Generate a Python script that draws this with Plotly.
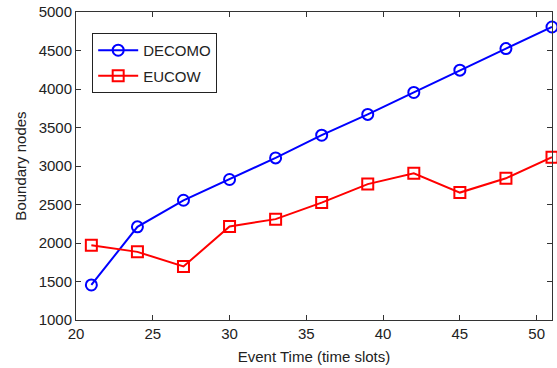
import plotly.graph_objects as go

event_time = [21, 24, 27, 30, 33, 36, 39, 42, 45, 48, 51]
decomo = [1455, 2210, 2555, 2825, 3105, 3400, 3670, 3955, 4245, 4525, 4805]
eucow = [1970, 1885, 1695, 2215, 2310, 2525, 2765, 2905, 2655, 2840, 3115]

FONT = "Liberation Sans, Arial, sans-serif"

fig = go.Figure()
fig.add_trace(go.Scatter(
    x=event_time, y=decomo, name="DECOMO", mode="lines+markers", legendgroup="a",
    line=dict(color="#0000ff", width=2), cliponaxis=False,
    marker=dict(symbol="circle-open", size=11, color="#0000ff", line=dict(width=2)),
))
fig.add_trace(go.Scatter(
    x=event_time, y=eucow, name="EUCOW", mode="lines+markers", legendgroup="b",
    line=dict(color="#ff0000", width=2), cliponaxis=False,
    marker=dict(symbol="square-open", size=11, color="#ff0000", line=dict(width=2)),
))

axis_common = dict(
    showgrid=False, zeroline=False, showline=True, linecolor="#333333", linewidth=1,
    mirror="ticks", ticks="inside", ticklen=5, tickcolor="#333333",
    tickfont=dict(family=FONT, size=15, color="#222222"),
)
fig.update_xaxes(range=[20, 51], tickvals=[20, 25, 30, 35, 40, 45, 50],
                 title=dict(text="Event Time (time slots)", standoff=10,
                            font=dict(family=FONT, size=15, color="#222222")),
                 **axis_common)
fig.update_yaxes(range=[1000, 5000], tickvals=list(range(1000, 5001, 500)),
                 title=dict(text="Boundary nodes", standoff=8,
                            font=dict(family=FONT, size=15, color="#222222")),
                 **axis_common)

fig.update_layout(
    width=557, height=368,
    margin=dict(l=76, r=5, t=12, b=48, autoexpand=False),
    paper_bgcolor="white", plot_bgcolor="white",
    showlegend=True,
    legend=dict(x=0.034, y=0.932, xanchor="left", yanchor="top",
                bordercolor="#222222", borderwidth=1, bgcolor="white",
                font=dict(family=FONT, size=15, color="#222222"),
                traceorder="grouped", tracegroupgap=3, itemwidth=40),
)

fig.write_html("out.html", config={"displayModeBar": False},
               post_script="document.body.style.margin='0';")
